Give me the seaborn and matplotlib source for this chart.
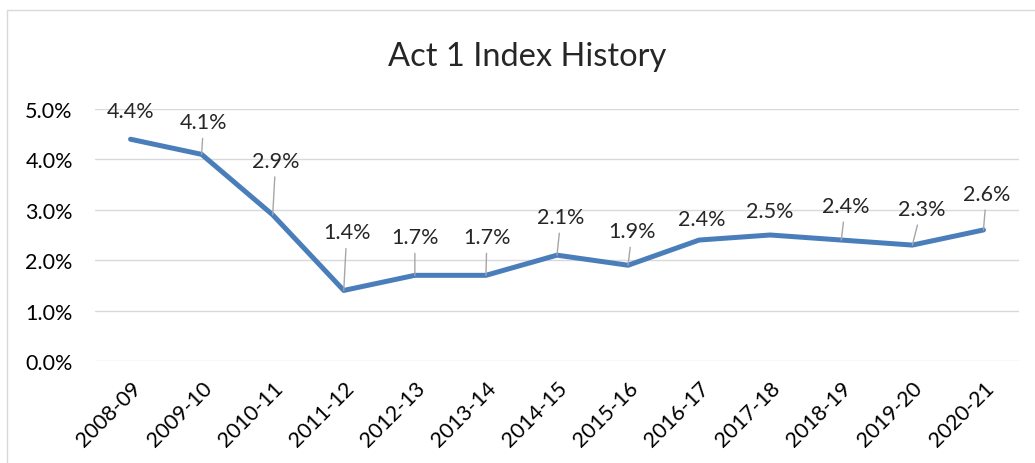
import matplotlib
matplotlib.use("Agg")
import matplotlib.pyplot as plt
import seaborn as sns
import pandas as pd
from matplotlib.patches import Rectangle
from matplotlib.ticker import PercentFormatter

years = ["2008-09", "2009-10", "2010-11", "2011-12", "2012-13", "2013-14", "2014-15",
         "2015-16", "2016-17", "2017-18", "2018-19", "2019-20", "2020-21"]
index_pct = [4.4, 4.1, 2.9, 1.4, 1.7, 1.7, 2.1, 1.9, 2.4, 2.5, 2.4, 2.3, 2.6]

# label offsets in pixels (dx, dy) and whether a leader line is shown
label_offsets = [(0, 28), (2, 32), (3, 54), (3, 58), (0, 38), (1, 38), (4, 38),
                 (4, 34), (3, 21), (0, 24), (4, 34), (9, 36), (3, 36)]
leaders = [False, True, True, True, True, True, True, True, False, False, True, True, True]

df = pd.DataFrame({"year": years, "value": [v / 100 for v in index_pct]})

sns.set_style("white")
plt.rcParams["font.family"] = ["Lato", "DejaVu Sans"]

fig = plt.figure(figsize=(10.35, 4.64), dpi=100)
fig.patches.append(Rectangle((7 / 1035, -0.1), 1.2, 1 - 11 / 464 + 0.1, transform=fig.transFigure,
                             fill=False, edgecolor="#d9d9d9", linewidth=1.0))
ax = fig.add_axes([95 / 1035, 1 - 362 / 464, (1019 - 95) / 1035, (362 - 110) / 464])

sns.lineplot(data=df, x="year", y="value", ax=ax, color="#4a7ebb", linewidth=3.6,
             sort=False, solid_capstyle="round", zorder=3)

ax.set_ylim(0, 0.05)
ax.set_xlim(-0.5, len(years) - 0.5)
ax.set_yticks([i / 100 for i in range(6)])
ax.yaxis.set_major_formatter(PercentFormatter(1.0, decimals=1))
ax.grid(axis="y", color="#d9d9d9", linewidth=1.0)
ax.grid(axis="x", visible=False)
for s in ax.spines.values():
    s.set_visible(False)
ax.set_xlabel("")
ax.set_ylabel("")
ax.tick_params(axis="both", length=0, labelsize=15.5, colors="#000000")
ax.tick_params(axis="y", pad=16)
ax.tick_params(axis="x", pad=12)
plt.setp(ax.get_xticklabels(), rotation=45, ha="right", rotation_mode="anchor")

px = 72 / 100
for i, (v, (dx, dy), lead) in enumerate(zip(df["value"], label_offsets, leaders)):
    arrow = dict(arrowstyle="-", color="#a6a6a6", lw=1.0, shrinkA=2, shrinkB=0) if lead else None
    ax.annotate(f"{index_pct[i]:.1f}%", xy=(i, v), xytext=(dx * px, dy * px),
                textcoords="offset points", ha="center", va="center", fontsize=15.5,
                arrowprops=arrow, zorder=4)

fig.text(527 / 1035, 1 - 57 / 464, "Act 1 Index History", ha="center", va="center", fontsize=23.5)

fig.savefig("out.png", dpi=100)
